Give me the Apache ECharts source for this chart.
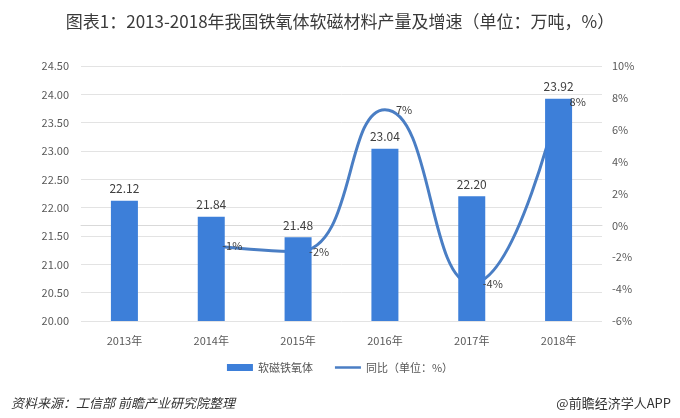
<!DOCTYPE html>
<html>
<head>
<meta charset="utf-8">
<script src="https://cdn.jsdelivr.net/npm/echarts@6/dist/echarts.min.js"></script>
<style>
  html, body { margin: 0; padding: 0; background: #fff; }
  #main { width: 680px; height: 418px; }
</style>
</head>
<body>
<div id="main"></div>
<script>
// 年份
var years = ['2013年', '2014年', '2015年', '2016年', '2017年', '2018年'];
// 产量（万吨）
var output = [22.12, 21.84, 21.48, 23.04, 22.20, 23.92];
// 同比（%），2013年无数据
var yoy = [null, -1.27, -1.65, 7.26, -3.65, 7.75];

var font = '"Microsoft YaHei", "Noto Sans CJK SC", sans-serif';
var barColor = '#3d7fd9';
var lineColor = '#4a7ec4';
var chart = echarts.init(document.getElementById('main'));

var option = {
  backgroundColor: '#fff',
  textStyle: { fontFamily: font },
  title: [
    {
      text: '图表1：2013-2018年我国铁氧体软磁材料产量及增速（单位：万吨，%）',
      left: 'center', top: 8,
      textStyle: { fontSize: 17, fontWeight: 'normal', color: '#3a3a3a', fontFamily: font }
    },
    {
      text: '资料来源：工信部 前瞻产业研究院整理',
      left: 6, top: 392,
      textStyle: { fontSize: 13, fontWeight: 'normal', fontStyle: 'italic', color: '#333', fontFamily: font }
    },
    {
      text: '@前瞻经济学人APP',
      right: 4, top: 392,
      textStyle: { fontSize: 13, fontWeight: 'normal', color: '#333', fontFamily: font }
    }
  ],
  legend: {
    top: 357, left: 'center', itemGap: 22,
    textStyle: { fontSize: 11, color: '#555' },
    itemWidth: 26, itemHeight: 7,
    data: [
      { name: '软磁铁氧体', icon: 'rect', itemStyle: { color: barColor } },
      { name: '同比（单位：%）', icon: 'path://M0,0 L26,0 L26,2.5 L0,2.5 Z', itemStyle: { color: lineColor } }
    ]
  },
  grid: { left: 81, right: 78, top: 66, bottom: 97 },
  xAxis: {
    type: 'category',
    data: years,
    axisTick: { show: false },
    axisLine: { lineStyle: { color: '#d9d9d9' } },
    axisLabel: { color: '#595959', fontSize: 11, margin: 14 }
  },
  yAxis: [
    {
      type: 'value', min: 20, max: 24.5, interval: 0.5,
      axisLabel: { color: '#595959', fontSize: 11, margin: 12, formatter: function (v) { return v.toFixed(2); } },
      splitLine: { lineStyle: { color: '#e3e3e3' } },
      axisLine: { show: false }, axisTick: { show: false }
    },
    {
      type: 'value', min: -6, max: 10, interval: 2,
      axisLabel: { color: '#595959', fontSize: 11, margin: 10, formatter: '{value}%' },
      splitLine: { show: false },
      axisLine: { show: false }, axisTick: { show: false }
    }
  ],
  series: [
    {
      name: '同比（单位：%）',
      type: 'line',
      yAxisIndex: 1,
      data: yoy,
      smooth: true,
      symbol: 'none',
      z: 1,
      lineStyle: { color: lineColor, width: 3 },
      itemStyle: { color: lineColor }
    },
    {
      name: '软磁铁氧体',
      type: 'bar',
      data: output,
      barWidth: 27,
      z: 2,
      itemStyle: { color: barColor },
      label: {
        show: true, position: 'top', distance: 6, color: '#404040', fontSize: 12,
        formatter: function (p) { return p.value.toFixed(2); }
      }
    },
    {
      // 同比数据标签（放在柱子上层）
      name: '同比标签',
      type: 'line',
      yAxisIndex: 1,
      data: yoy,
      symbol: 'circle',
      symbolSize: 2,
      showSymbol: true,
      z: 3,
      silent: true,
      lineStyle: { color: 'rgba(0,0,0,0)', width: 0 },
      itemStyle: { color: 'rgba(0,0,0,0)', borderWidth: 0 },
      label: {
        show: true, position: 'right', distance: 10, color: '#404040', fontSize: 11,
        formatter: function (p) { return Math.round(p.value) + '%'; }
      }
    }
  ]
};

chart.setOption(option);
</script>
</body>
</html>
